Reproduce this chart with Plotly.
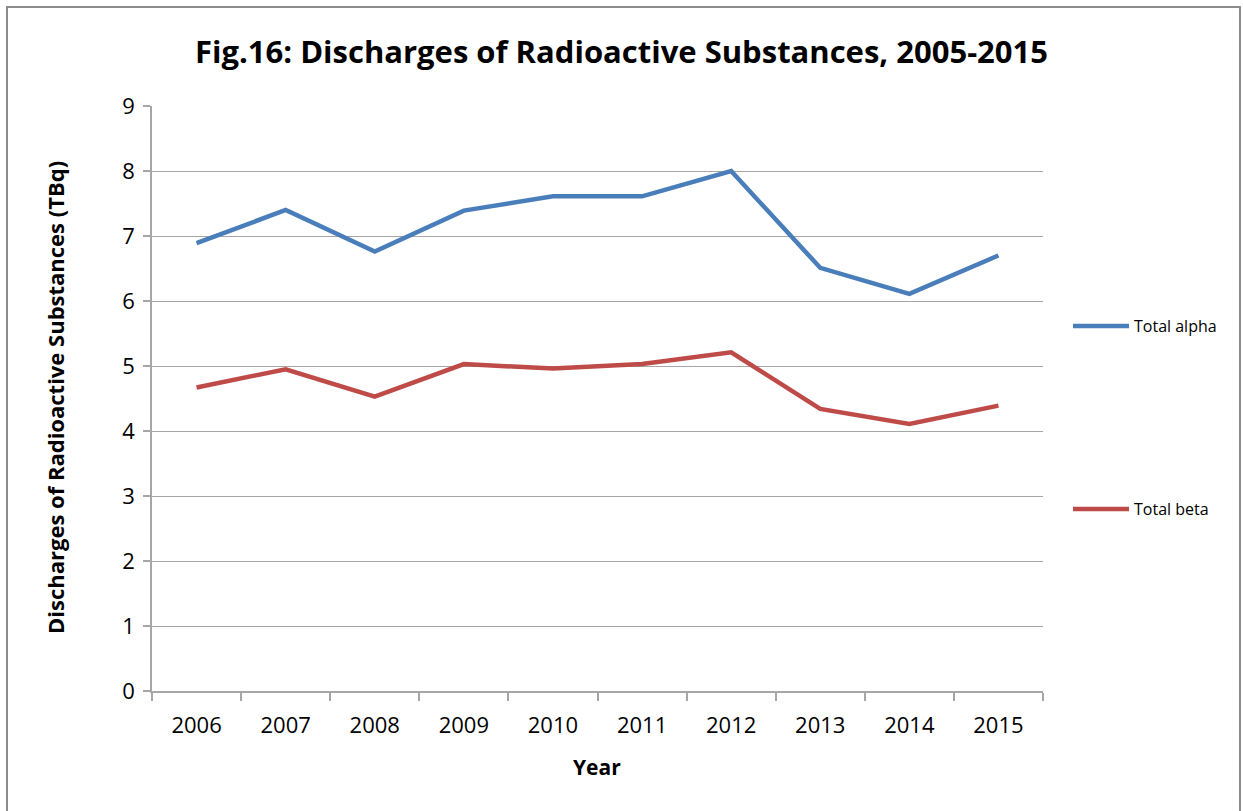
import plotly.graph_objects as go

# Annual discharge totals (TBq)
years = ["2006", "2007", "2008", "2009", "2010", "2011", "2012", "2013", "2014", "2015"]
total_alpha = [6.89, 7.40, 6.76, 7.39, 7.61, 7.61, 8.00, 6.51, 6.11, 6.70]
total_beta = [4.67, 4.95, 4.53, 5.03, 4.96, 5.03, 5.21, 4.34, 4.11, 4.39]
y_ticks = [0, 1, 2, 3, 4, 5, 6, 7, 8, 9]

FONT = "Open Sans"
GRID = "#a6a6a6"

fig = go.Figure()
fig.add_trace(go.Scatter(
    x=years, y=total_alpha, name="Total alpha", mode="lines",
    line=dict(color="#4a7ebb", width=4.5), legend="legend",
))
fig.add_trace(go.Scatter(
    x=years, y=total_beta, name="Total beta", mode="lines",
    line=dict(color="#be4b48", width=4.5), legend="legend2",
))

W, H = 1243, 811
L, R, T, B = 152, 1043, 106, 691
pw, ph = R - L, B - T


def px(x):
    return (x - L) / pw


def py(y):
    return (B - y) / ph


legend_font = dict(family=FONT, size=16, color="#000000")

fig.update_layout(
    width=W, height=H,
    margin=dict(l=L, r=W - R, t=T, b=H - B),
    paper_bgcolor="white", plot_bgcolor="white",
    font=dict(family=FONT, color="#000000"),
    title=dict(
        text="<b>Fig.16: Discharges of Radioactive Substances, 2005-2015</b>",
        x=0.5, xanchor="center", y=1 - 52 / H, yanchor="middle",
        font=dict(family=FONT, size=31, color="#000000"),
    ),
    xaxis=dict(
        type="category", range=[-0.5, len(years) - 0.5],
        tickson="boundaries", ticks="outside", ticklen=8, ticklabelstandoff=14,
        tickcolor=GRID, tickwidth=1.5, showline=True, linecolor=GRID, linewidth=1.5,
        showgrid=False, tickfont=dict(family=FONT, size=22, color="#000000"),
    ),
    yaxis=dict(
        range=[0, 9], tickvals=y_ticks, ticks="outside", ticklen=7,
        ticklabelstandoff=4,
        tickcolor=GRID, tickwidth=1.5, showline=True, linecolor=GRID, linewidth=1.5,
        showgrid=True, gridcolor=GRID, gridwidth=1.3, zeroline=False,
        tickfont=dict(family=FONT, size=22, color="#000000"),
    ),
    legend=dict(
        x=px(1068), y=py(326), xanchor="left", yanchor="middle",
        font=legend_font, bgcolor="rgba(0,0,0,0)", itemwidth=56,
    ),
    legend2=dict(
        x=px(1068), y=py(509), xanchor="left", yanchor="middle",
        font=legend_font, bgcolor="rgba(0,0,0,0)", itemwidth=56,
    ),
    showlegend=True,
    annotations=[
        dict(text="<b>Discharges of Radioactive Substances (TBq)</b>",
             x=px(55), y=py(398), xref="paper", yref="paper",
             xanchor="center", yanchor="middle", textangle=-90, showarrow=False,
             font=dict(family=FONT, size=22, color="#000000")),
        dict(text="<b>Year</b>",
             x=px(597), y=py(767), xref="paper", yref="paper",
             xanchor="center", yanchor="middle", showarrow=False,
             font=dict(family=FONT, size=21, color="#000000")),
    ],
    shapes=[
        dict(type="rect", xref="paper", yref="paper",
             x0=px(7), x1=px(1240), y0=py(830), y1=py(7),
             line=dict(color="#8c8c8c", width=2), fillcolor="rgba(0,0,0,0)",
             layer="below"),
    ],
)

fig.write_html("out.html")
